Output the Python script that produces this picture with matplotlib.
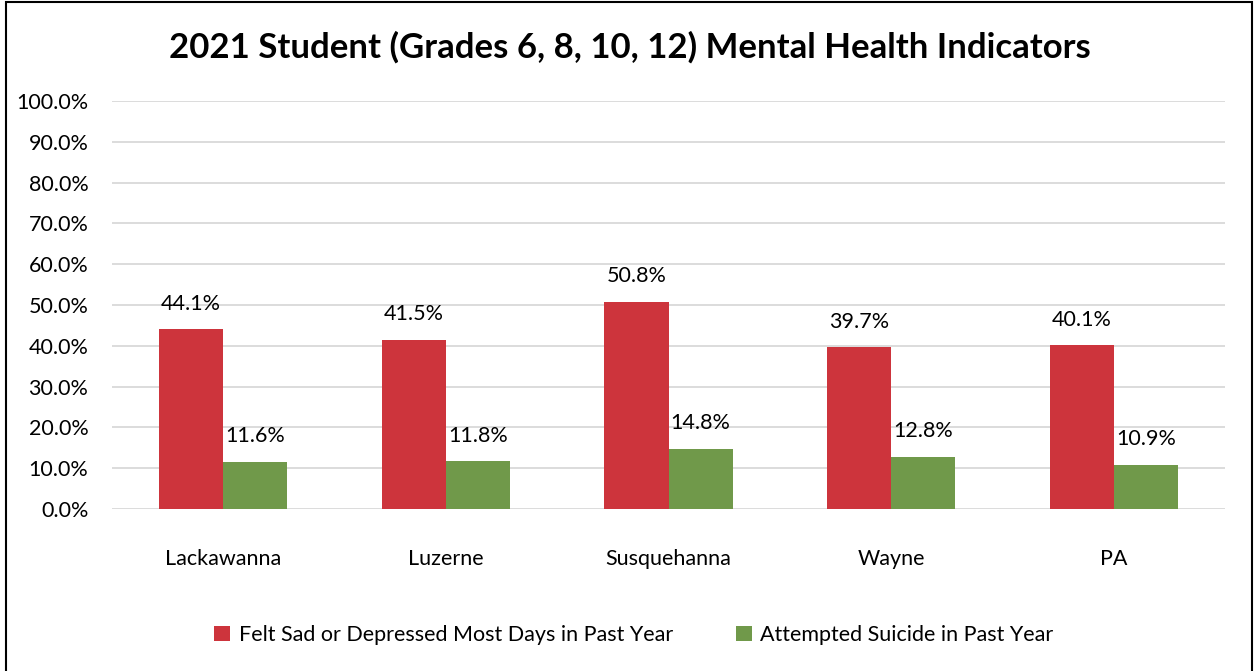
import matplotlib.pyplot as plt
from matplotlib.patches import Rectangle
import numpy as np

plt.rcParams["font.family"] = ["Lato", "DejaVu Sans"]

regions = ["Lackawanna", "Luzerne", "Susquehanna", "Wayne", "PA"]
felt_sad = [44.1, 41.5, 50.8, 39.7, 40.1]
attempted_suicide = [11.6, 11.8, 14.8, 12.8, 10.9]
series_names = ["Felt Sad or Depressed Most Days in Past Year",
                "Attempted Suicide in Past Year"]
yticks = np.arange(0, 101, 10)

red = "#CD343C"
green = "#70994A"
fs = 15.5

fig = plt.figure(figsize=(12.54, 6.71), dpi=100)
ax = fig.add_axes([112 / 1254, 1 - 509 / 671, 1113 / 1254, 408 / 671])

x = np.arange(len(regions))
w = 0.288
b1 = ax.bar(x - w / 2, felt_sad, w, color=red, label=series_names[0], zorder=3)
b2 = ax.bar(x + w / 2, attempted_suicide, w, color=green, label=series_names[1], zorder=3)

for bars, vals in ((b1, felt_sad), (b2, attempted_suicide)):
    for rect, v in zip(bars, vals):
        ax.annotate(f"{v:.1f}%", (rect.get_x() + rect.get_width() / 2, v),
                    xytext=(0, 11), textcoords="offset points",
                    ha="center", va="bottom", fontsize=fs, color="#000000")

ax.set_xlim(-0.5, len(regions) - 0.5)
ax.set_ylim(0, 100)
ax.set_yticks(yticks)
ax.set_yticklabels([f"{t:.1f}%" for t in yticks], fontsize=fs)
ax.set_xticks(x)
ax.set_xticklabels(regions, fontsize=fs)
ax.tick_params(axis="both", length=0)
ax.tick_params(axis="x", pad=29)
ax.tick_params(axis="y", pad=17)
ax.grid(axis="y", color="#D9D9D9", linewidth=1.3, zorder=0)
for s in ax.spines.values():
    s.set_visible(False)

fig.text(630 / 1254, 1 - 47 / 671,
         "2021 Student (Grades 6, 8, 10, 12) Mental Health Indicators",
         ha="center", va="center", fontsize=25, fontweight="bold")

fig.legend(loc="center", bbox_to_anchor=(634 / 1254, 1 - 635 / 671), ncol=2,
           frameon=False, fontsize=fs, handlelength=0.75, handleheight=0.75,
           handletextpad=0.4, columnspacing=2.9)

# outer chart frame
fig.add_artist(Rectangle((6 / 1254, -0.01), 1246 / 1254, 1 - 2 / 671 + 0.01,
                         transform=fig.transFigure, fill=False,
                         edgecolor="black", linewidth=1.5))

fig.savefig("out.png", dpi=100)
